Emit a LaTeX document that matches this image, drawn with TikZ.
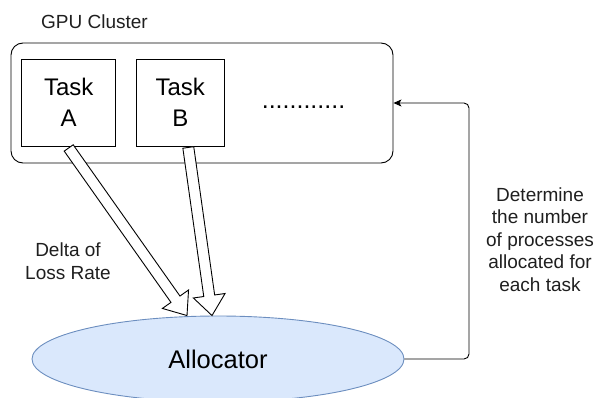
\documentclass[tikz,border=0pt]{standalone}
\usepackage{fontspec}
\setmainfont{Liberation Sans}
\usetikzlibrary{shapes.geometric,arrows.meta,calc}

\definecolor{allocfill}{HTML}{DAE8FC}
\definecolor{allocdraw}{HTML}{6C8EBF}

\tikzset{
  box/.style={draw, line width=0.9pt, inner sep=0pt, align=center,
    font=\fontsize{24}{31}\selectfont},
  cluster/.style={draw, line width=0.9pt, rounded corners=12pt},
  label/.style={align=center, inner sep=0pt, text=black!88,
    font=\fontsize{19}{22.5}\selectfont},
  fatarrow/.style={draw, line width=0.9pt, fill=white, line join=miter},
  feedback/.style={draw, line width=0.9pt, rounded corners=5pt,
    -{Stealth[length=8pt,width=7pt,inset=2pt]}},
  allocbox/.style={ellipse, draw=allocdraw, line width=0.9pt, fill=allocfill,
    inner sep=0pt, font=\fontsize{25.5}{30}\selectfont}
}

% hollow block arrow from #1 (tail centre) to #2 (tip)
\newcommand{\blockarrow}[2]{%
  \coordinate (hb) at ($(#2)!20pt!(#1)$);
  \draw[fatarrow]
    ($(#1)!5.5pt!90:(#2)$) --
    ($(hb)!5.5pt!90:(#2)$) --
    ($(hb)!16pt!90:(#2)$) --
    (#2) --
    ($(hb)!16pt!-90:(#2)$) --
    ($(hb)!5.5pt!-90:(#2)$) --
    ($(#1)!5.5pt!-90:(#2)$) -- cycle;
}

\begin{document}
\begin{tikzpicture}[x=1pt, y=-1pt]
  \useasboundingbox (0,0) rectangle (596,398);
  \clip (0,0) rectangle (596,398);

  % GPU cluster container with its tasks
  \node[cluster, minimum width=382pt, minimum height=120pt] (cluster) at (202,103) {};
  \node[label, anchor=base] (title) at (94.5,28.3) {GPU Cluster};
  \node[box, minimum width=94pt, minimum height=87pt] (taskA) at (68.7,102.5) {Task\\A};
  \node[box, minimum width=87.3pt, minimum height=87pt] (taskB) at (180.3,102.5) {Task\\B};
  \node[anchor=base, inner sep=0pt, font=\fontsize{25}{30}\selectfont] (dots) at (303.5,109) {............};

  % allocator
  \node[allocbox, minimum width=372pt, minimum height=86pt] (alloc) at (218,359) {Allocator};

  % loss-rate deltas sent to the allocator
  \coordinate (tailA) at ($(taskA.south)+(0,1.5)$);
  \coordinate (tipA)  at ($(alloc.north)+(-31,0)$);
  \coordinate (tailB) at ($(taskB.south)+(8,1)$);
  \coordinate (tipB)  at ($(alloc.north)+(-6,0)$);
  \blockarrow{tailA}{tipA}
  \blockarrow{tailB}{tipB}
  \node[label] (delta) at (68,261) {Delta of\\Loss Rate};

  % allocation decision fed back to the cluster
  \coordinate (turn) at (469,0);
  \draw[feedback] (alloc.east) -| (turn |- cluster.east) -- (cluster.east);
  \node[label] (decide) at (540,239.5) {Determine\\the number\\of processes\\allocated for\\each task};
\end{tikzpicture}
\end{document}
